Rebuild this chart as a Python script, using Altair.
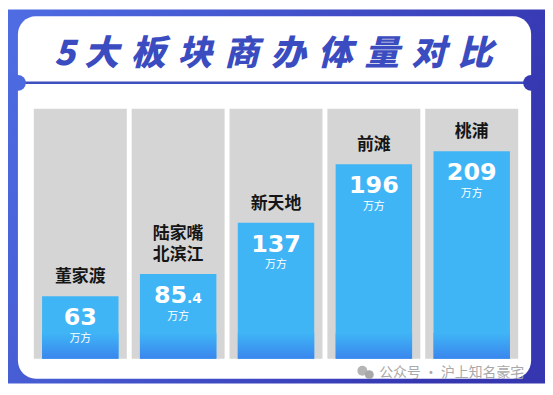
import altair as alt
import pandas as pd

# ---- data ----
names = ["董家渡", "陆家嘴北滨江", "新天地", "前滩", "桃浦"]
label_top = ["", "陆家嘴", "", "", ""]
label_bottom = ["董家渡", "北滨江", "新天地", "前滩", "桃浦"]
values = [63, 85.4, 137, 196, 209]
unit = "万方"
title_chars = list("5大板块商办体量对比")
watermark = "公众号 · 沪上知名豪宅"
y_max = 252


def split_num(v):
    s = f"{v:g}"
    if "." in s:
        a, b = s.split(".")
        return a, "." + b
    return s, ""


df = pd.DataFrame({"name": names, "top": label_top, "bottom": label_bottom, "value": values})
df["full"] = y_max
df["main"] = [split_num(v)[0] for v in values]
df["frac"] = [split_num(v)[1] for v in values]
df["unit"] = unit

W, H = 541, 377
one = alt.Data(values=[{"k": 1}])

x_enc = alt.X("name:N", sort=names, axis=None,
              scale=alt.Scale(range=[26, 514], paddingInner=0.05, paddingOuter=0))
y_scale = alt.Scale(domain=[0, y_max], range=[352, 100])

# ---- decorations ----
bg = alt.Chart(one).mark_rect(
    color=alt.Gradient(gradient="linear", x1=0, y1=0, x2=1, y2=0.3,
                       stops=[alt.GradientStop(color="#4f6de3", offset=0),
                              alt.GradientStop(color="#3536b0", offset=1)])
).encode(x=alt.value(0), x2=alt.value(W), y=alt.value(0), y2=alt.value(H))

panel = alt.Chart(one).mark_rect(color="white", cornerRadius=18).encode(
    x=alt.value(10), x2=alt.value(527), y=alt.value(7), y2=alt.value(372))

divider = alt.Chart(one).mark_rule(color="#3e4fbf", strokeWidth=2.5).encode(
    x=alt.value(10), x2=alt.value(527), y=alt.value(74))

notch_l = alt.Chart(one).mark_point(filled=True, shape="circle", size=256,
                                    color="#4c69e0", opacity=1).encode(
    x=alt.value(10), y=alt.value(74))
notch_r = alt.Chart(one).mark_point(filled=True, shape="circle", size=256,
                                    color="#3639b2", opacity=1).encode(
    x=alt.value(527), y=alt.value(74))

title_layers = []
for i, ch in enumerate(title_chars):
    cx = 57 if i == 0 else 94 + 47.1 * (i - 1)
    title_layers.append(
        alt.Chart(one).mark_text(
            text=ch, font="Noto Sans CJK SC", fontSize=35, fontWeight=900,
            fontStyle="italic", color="#3b4cc0", align="center", baseline="middle"
        ).encode(x=alt.value(cx), y=alt.value(45.5))
    )

wm_icon1 = alt.Chart(one).mark_point(filled=True, shape="circle", size=100,
                                     color="#b5b5b5", opacity=1).encode(
    x=alt.value(357), y=alt.value(364))
wm_icon2 = alt.Chart(one).mark_point(filled=True, shape="circle", size=80,
                                     color="#a8a8a8", opacity=1).encode(
    x=alt.value(364), y=alt.value(368))
wm_text = alt.Chart(one).mark_text(
    text=watermark, font="Noto Sans CJK SC", fontSize=14, color="#a9a9a9",
    align="left", baseline="middle"
).encode(x=alt.value(374), y=alt.value(366))

# ---- data marks ----
base = alt.Chart(df)

gray = base.mark_bar(color="#d5d5d5").encode(
    x=x_enc, y=alt.Y("full:Q", scale=y_scale, axis=None))

blue = base.mark_bar(size=77, color="#3fb5f6").encode(
    x=x_enc, y=alt.Y("value:Q", scale=y_scale, axis=None))

shade = base.mark_bar(
    size=77,
    color=alt.Gradient(gradient="linear", x1=0, y1=0, x2=0, y2=1,
                       stops=[alt.GradientStop(color="#3fb5f6", offset=0),
                              alt.GradientStop(color="#3a86ed", offset=1)])
).encode(x=x_enc, y=alt.Y(datum=26, type="quantitative", scale=y_scale, axis=None))

label_style = dict(font="Noto Sans CJK SC", fontSize=17, fontWeight="bold",
                   color="#151515", baseline="bottom")

cat_bottom = base.mark_text(dy=-10, **label_style).encode(
    x=x_enc, y=alt.Y("value:Q", scale=y_scale), text="bottom:N")
cat_top = base.transform_filter("datum.top != ''").mark_text(dy=-31, **label_style).encode(
    x=x_enc, y=alt.Y("value:Q", scale=y_scale), text="top:N")

num_int = base.transform_filter("datum.frac == ''").mark_text(
    font="DejaVu Sans", fontSize=24, fontWeight="bold", color="white",
    baseline="alphabetic", dy=29, align="center"
).encode(x=x_enc, y=alt.Y("value:Q", scale=y_scale), text="main:N")

num_dec_main = base.transform_filter("datum.frac != ''").mark_text(
    font="DejaVu Sans", fontSize=24, fontWeight="bold", color="white",
    baseline="alphabetic", dy=29, dx=9, align="right"
).encode(x=x_enc, y=alt.Y("value:Q", scale=y_scale), text="main:N")

num_dec_frac = base.transform_filter("datum.frac != ''").mark_text(
    font="DejaVu Sans", fontSize=14, fontWeight="bold", color="white",
    baseline="alphabetic", dy=29, dx=9, align="left"
).encode(x=x_enc, y=alt.Y("value:Q", scale=y_scale), text="frac:N")

unit_text = base.mark_text(
    font="Noto Sans CJK SC", fontSize=11, color="white",
    baseline="middle", dy=43, align="center"
).encode(x=x_enc, y=alt.Y("value:Q", scale=y_scale), text="unit:N")

chart = alt.layer(
    bg, panel, divider, notch_l, notch_r, *title_layers,
    gray, blue, shade, cat_top, cat_bottom, num_int, num_dec_main, num_dec_frac, unit_text,
    wm_icon1, wm_icon2, wm_text
).properties(
    width=W, height=H, autosize=alt.AutoSizeParams(type="none"), padding=0
).configure_view(stroke=None)

chart.save("out.html", embed_options={"renderer": "svg", "actions": False})
